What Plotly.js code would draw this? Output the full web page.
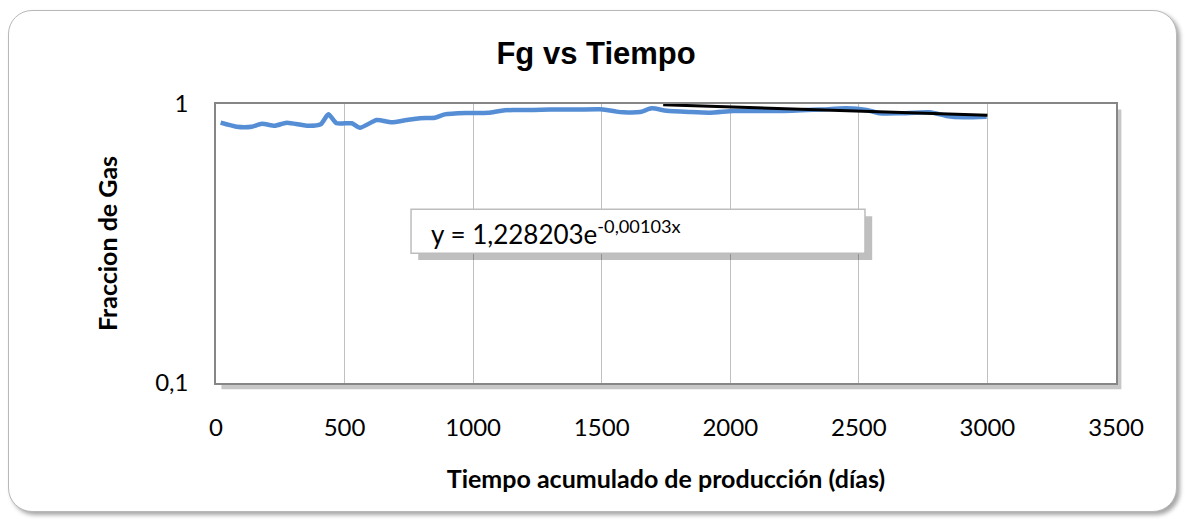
<!DOCTYPE html>
<html>
<head>
<meta charset="utf-8">
<script src="https://cdn.plot.ly/plotly-3.0.1.min.js"></script>
<style>
  html, body { margin: 0; padding: 0; background: #ffffff; }
  #wrap { position: relative; width: 1185px; height: 520px; overflow: hidden; }
  #frame { position: absolute; left: 8px; top: 10px; width: 1167px; height: 500px;
           border: 1.5px solid #b8b8b8; border-radius: 24px;
           box-shadow: 3px 3px 4px rgba(0,0,0,0.35); background: #ffffff; }
  #chart { position: absolute; left: 0; top: 0; width: 1185px; height: 520px; }
</style>
</head>
<body>
<div id="wrap">
  <div id="frame"></div>
  <div id="chart"></div>
</div>
<script>
// Data
const dias = [18, 80, 139, 178, 229, 275, 353, 407, 437, 469, 528, 560, 625, 683, 741, 793, 851, 890, 975, 1059, 1104, 1156, 1234, 1299, 1400, 1493, 1519, 1558, 1584, 1649, 1694, 1752, 1843, 1921, 2012, 2100, 2206, 2350, 2452, 2530, 2582, 2659, 2776, 2841, 2906, 2997];
const fg = [0.857, 0.829, 0.829, 0.850, 0.836, 0.857, 0.836, 0.846, 0.918, 0.853, 0.853, 0.822, 0.876, 0.860, 0.876, 0.889, 0.893, 0.918, 0.928, 0.930, 0.944, 0.952, 0.952, 0.955, 0.955, 0.957, 0.952, 0.939, 0.934, 0.936, 0.965, 0.946, 0.936, 0.931, 0.944, 0.944, 0.944, 0.955, 0.965, 0.952, 0.926, 0.926, 0.934, 0.906, 0.896, 0.900];
const trendDias = [1739, 3000];
const trendFg = [0.994, 0.911];
const xTicks = [0, 500, 1000, 1500, 2000, 2500, 3000, 3500];
const yTickVals = [0.1, 1];
const yTickText = ['0,1', '1'];
const titulo = 'Fg vs Tiempo';
const xTitulo = 'Tiempo acumulado de producción (días)';
const yTitulo = 'Fraccion de Gas';
const ecuacion = 'y = 1,228203e<sup>-0,00103x</sup>';

const tickFont = {family: 'Lato, "Open Sans", sans-serif', size: 24, color: '#000000'};

const traces = [
  {x: dias, y: fg, type: 'scatter', mode: 'lines',
   line: {color: '#558ED5', width: 4.5, shape: 'spline', smoothing: 0.6},
   hoverinfo: 'x+y', showlegend: false},
  {x: trendDias, y: trendFg, type: 'scatter', mode: 'lines',
   line: {color: '#000000', width: 3},
   hoverinfo: 'x+y', showlegend: false}
];

// equation box (paper coords relative to plot area)
const bx0 = 0.2167, bx1 = 0.7211, by0 = 0.4655, by1 = 0.623;

const layout = {
  width: 1185, height: 520,
  margin: {l: 216, r: 69, t: 104, b: 137},
  paper_bgcolor: 'rgba(0,0,0,0)',
  plot_bgcolor: 'rgba(0,0,0,0)',
  title: {text: '<b>' + titulo + '</b>', font: {family: '"Liberation Sans", Arial, sans-serif', size: 31, color: '#000000'},
          x: 0.503, xanchor: 'center', xref: 'container', y: 0.898, yanchor: 'middle', yref: 'container'},
  xaxis: {
    range: [0, 3500], tickvals: xTicks, ticktext: xTicks.map(String),
    showgrid: true, gridcolor: '#c0c0c0', gridwidth: 1.3,
    zeroline: false, showline: true, linecolor: '#868686', linewidth: 1.5, mirror: true,
    ticks: '', ticklabelstandoff: 22, tickfont: tickFont,
    title: {text: '<b>' + xTitulo + '</b>', font: {family: 'Lato, "Open Sans", sans-serif', size: 25, color: '#000000'}, standoff: 31}
  },
  yaxis: {
    type: 'log', range: [-1, 0], tickvals: yTickVals, ticktext: yTickText,
    showgrid: false, zeroline: false, showline: true, linecolor: '#868686', linewidth: 1.5, mirror: true,
    ticks: '', ticklabelstandoff: 21, tickfont: tickFont,
    title: {text: '<b>' + yTitulo + '</b>', font: {family: 'Lato, "Open Sans", sans-serif', size: 25, color: '#000000'}, standoff: 30}
  },
  shapes: [
    // plot area shadow
    {type: 'rect', xref: 'paper', yref: 'paper', x0: 0.006, x1: 1.006, y0: -0.022, y1: 0.98,
     line: {width: 0}, fillcolor: 'rgba(0,0,0,0.22)', layer: 'below'},
    // plot area background
    {type: 'rect', xref: 'paper', yref: 'paper', x0: 0, x1: 1, y0: 0, y1: 1,
     line: {width: 0}, fillcolor: '#ffffff', layer: 'below'},
    // equation box shadow
    {type: 'rect', xref: 'paper', yref: 'paper', x0: bx0 + 0.008, x1: bx1 + 0.008, y0: by0 - 0.025, y1: by1 - 0.025,
     line: {width: 0}, fillcolor: 'rgba(0,0,0,0.25)', layer: 'above'},
    // equation box
    {type: 'rect', xref: 'paper', yref: 'paper', x0: bx0, x1: bx1, y0: by0, y1: by1,
     line: {color: '#bdbdbd', width: 1.5}, fillcolor: '#ffffff', layer: 'above'}
  ],
  annotations: [
    {xref: 'paper', yref: 'paper', x: bx0 + 0.02, y: by0 + 0.005, xanchor: 'left', yanchor: 'bottom',
     text: ecuacion, showarrow: false, align: 'left',
     font: {family: 'Lato, "Open Sans", sans-serif', size: 26, color: '#000000'}}
  ],
  showlegend: false
};

Plotly.newPlot('chart', traces, layout, {displayModeBar: false, staticPlot: false});
</script>
</body>
</html>
